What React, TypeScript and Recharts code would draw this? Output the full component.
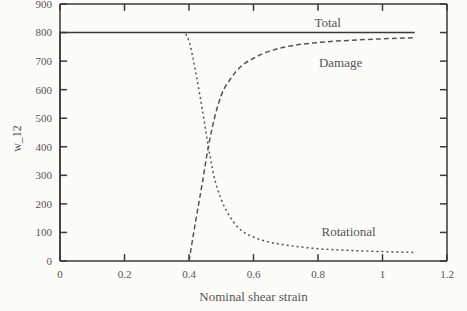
import { Label, Line, LineChart, ReferenceDot, ReferenceLine, XAxis, YAxis } from 'recharts';

const xTicks = [0, 0.2, 0.4, 0.6, 0.8, 1, 1.2];
const yTicks = [0, 100, 200, 300, 400, 500, 600, 700, 800, 900];

const totalStrain = [0, 0, 1.1];
const totalW = [0, 800, 800];

const damageStrain = [0.4, 0.42, 0.44, 0.46, 0.48, 0.5, 0.53, 0.56, 0.6, 0.65, 0.7, 0.8, 0.9, 1.0, 1.1];
const damageW = [0, 135, 265, 400, 505, 580, 640, 680, 710, 735, 750, 765, 773, 778, 782];

const rotStrain = [0.39, 0.4, 0.42, 0.44, 0.46, 0.48, 0.5, 0.52, 0.55, 0.6, 0.65, 0.7, 0.8, 0.9, 1.0, 1.1];
const rotW = [795, 770, 665, 540, 400, 285, 215, 168, 120, 84, 66, 56, 43, 37, 33, 30];

const seriesNames = ['Total', 'Damage', 'Rotational'];
const labelAt = [
  [0.83, 837],
  [0.87, 697],
  [0.895, 102],
];

const toPoints = (xs: number[], ys: number[]) => xs.map((x, i) => ({ x, y: ys[i] }));

const X_MAX = 1.2;
const Y_MAX = 900;
// inward tick length, in axis units (about 7px)
const TICK_X = 0.022;
const TICK_Y = 24;

const ink = '#3a3a3a';
const textColor = '#555';
const font = '"Liberation Serif", "DejaVu Serif", serif';
const tickFont = { fill: textColor, fontSize: 11, fontFamily: font };

export default function App() {
  return (
    <div style={{ position: 'absolute', left: 0, top: 0, width: 467, height: 311, background: '#fcfcf8' }}>
      <LineChart width={467} height={311} margin={{ top: 3, right: 19, bottom: 0, left: 0 }}>
        <XAxis
          xAxisId="b"
          dataKey="x"
          type="number"
          domain={[0, X_MAX]}
          ticks={xTicks}
          interval={0}
          height={50}
          stroke={ink}
          strokeWidth={1.5}
          tickLine={false}
          tickSize={6}
          tickMargin={3}
          tick={tickFont}
        >
          <Label
            value="Nominal shear strain"
            position="insideBottom"
            offset={10}
            style={{ fill: textColor, fontSize: 13, fontFamily: font }}
          />
        </XAxis>
        <XAxis
          xAxisId="t"
          orientation="top"
          dataKey="x"
          type="number"
          domain={[0, X_MAX]}
          height={1}
          stroke={ink}
          strokeWidth={1.5}
          tickLine={false}
          tick={false}
        />
        <YAxis
          yAxisId="l"
          type="number"
          domain={[0, Y_MAX]}
          ticks={yTicks}
          interval={0}
          width={60}
          stroke={ink}
          strokeWidth={1.5}
          tickLine={false}
          tickSize={6}
          tickMargin={2}
          tick={tickFont}
        >
          <Label
            content={({ viewBox }: any) => {
              const cx = viewBox.x + 17;
              const cy = viewBox.y + viewBox.height / 2 + 6;
              return (
                <text
                  x={cx}
                  y={cy}
                  transform={`rotate(-90 ${cx} ${cy})`}
                  textAnchor="middle"
                  dominantBaseline="central"
                  fill={textColor}
                  fontSize={12}
                  fontFamily={font}
                >
                  w_12
                </text>
              );
            }}
          />
        </YAxis>
        <YAxis
          yAxisId="r"
          orientation="right"
          type="number"
          domain={[0, Y_MAX]}
          width={1}
          stroke={ink}
          strokeWidth={1.5}
          tickLine={false}
          tick={false}
        />

        {/* inward tick marks on all four sides */}
        {xTicks.map((t) => (
          <ReferenceLine key={`b${t}`} xAxisId="b" yAxisId="l" segment={[{ x: t, y: 0 }, { x: t, y: TICK_Y }]} stroke={ink} strokeWidth={1.5} />
        ))}
        {xTicks.map((t) => (
          <ReferenceLine key={`t${t}`} xAxisId="b" yAxisId="l" segment={[{ x: t, y: Y_MAX }, { x: t, y: Y_MAX - TICK_Y }]} stroke={ink} strokeWidth={1.5} />
        ))}
        {yTicks.map((t) => (
          <ReferenceLine key={`l${t}`} xAxisId="b" yAxisId="l" segment={[{ x: 0, y: t }, { x: TICK_X, y: t }]} stroke={ink} strokeWidth={1.5} />
        ))}
        {yTicks.map((t) => (
          <ReferenceLine key={`r${t}`} xAxisId="b" yAxisId="l" segment={[{ x: X_MAX, y: t }, { x: X_MAX - TICK_X, y: t }]} stroke={ink} strokeWidth={1.5} />
        ))}

        <Line
          xAxisId="b"
          yAxisId="l"
          data={toPoints(totalStrain, totalW)}
          dataKey="y"
          stroke={ink}
          strokeWidth={1.5}
          dot={false}
          isAnimationActive={false}
        />
        <Line
          xAxisId="b"
          yAxisId="l"
          data={toPoints(damageStrain, damageW)}
          dataKey="y"
          type="monotone"
          stroke="#555"
          strokeWidth={1.5}
          strokeDasharray="5 3"
          dot={false}
          isAnimationActive={false}
        />
        <Line
          xAxisId="b"
          yAxisId="l"
          data={toPoints(rotStrain, rotW)}
          dataKey="y"
          type="monotone"
          stroke="#555"
          strokeWidth={1.5}
          strokeDasharray="2 3"
          dot={false}
          isAnimationActive={false}
        />
        {seriesNames.map((name, i) => (
          <ReferenceDot
            key={name}
            xAxisId="b"
            yAxisId="l"
            x={labelAt[i][0]}
            y={labelAt[i][1]}
            r={0}
            stroke="none"
            fill="none"
          >
            <Label
              value={name}
              position="center"
              style={{ fill: textColor, fontSize: 13, fontFamily: font }}
            />
          </ReferenceDot>
        ))}
      </LineChart>
    </div>
  );
}
